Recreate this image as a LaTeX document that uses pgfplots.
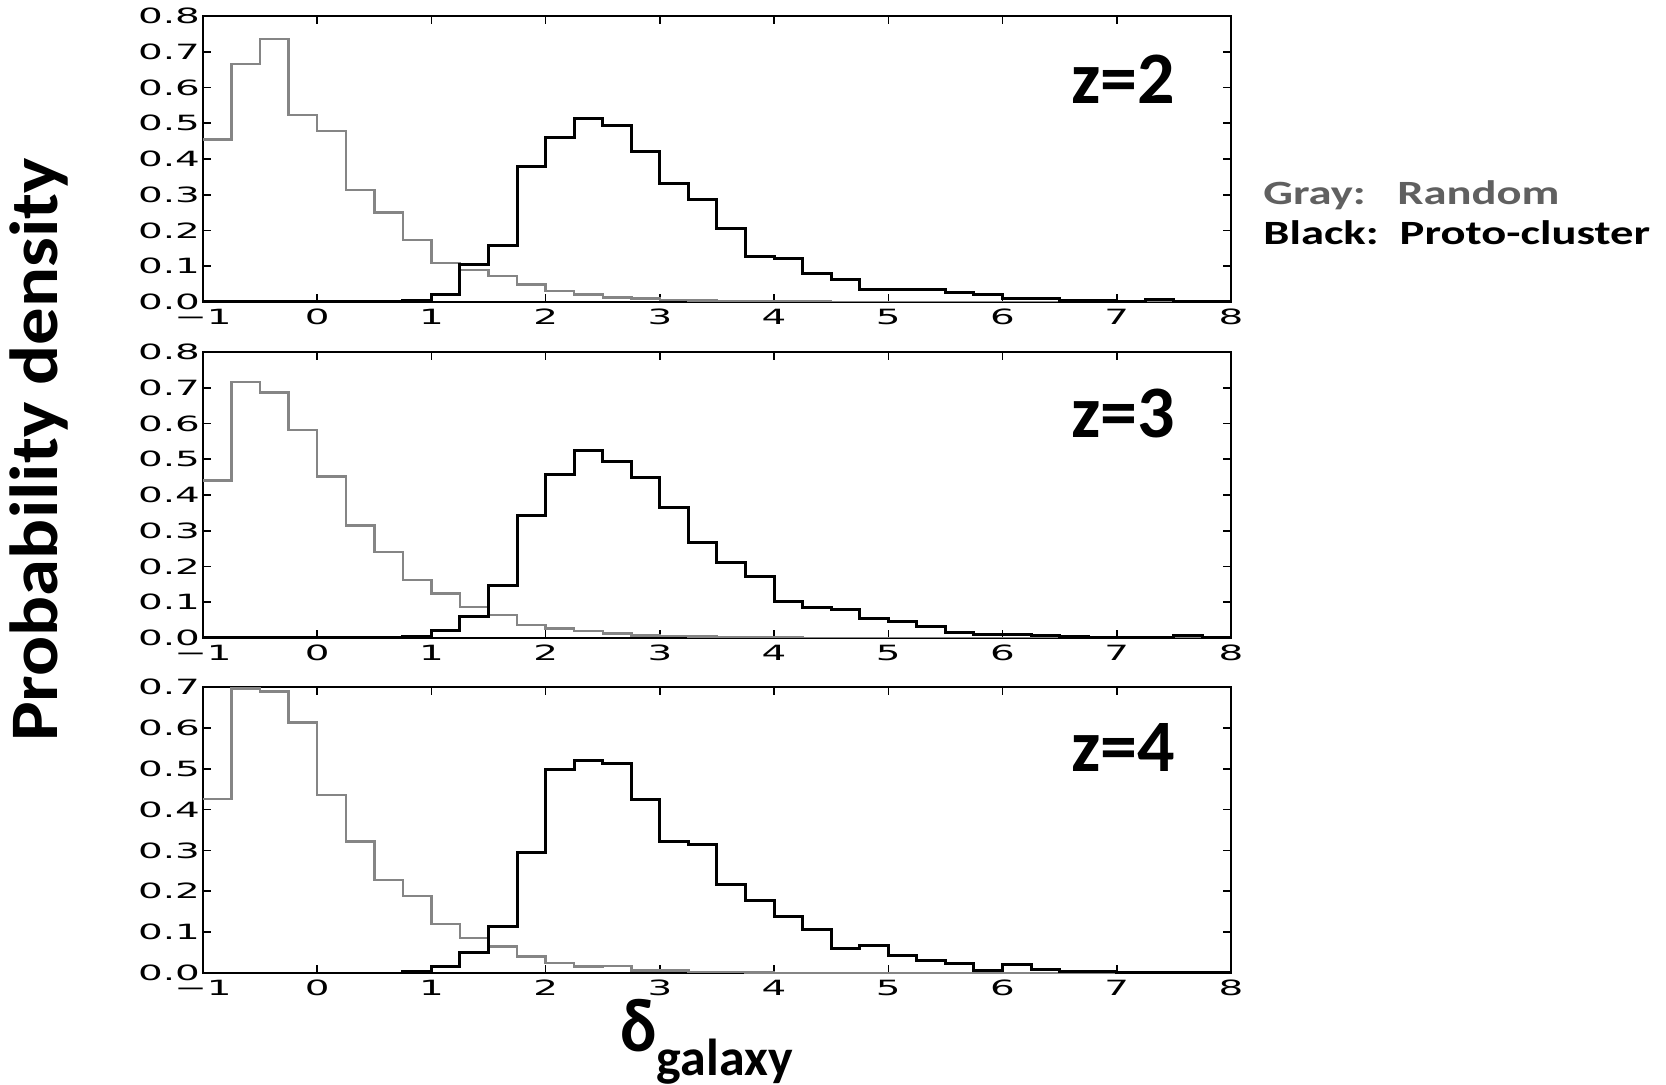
\documentclass[border=0pt]{standalone}
\usepackage{fontspec}
\setmainfont{Carlito}
\newfontfamily\tickfont{DejaVu Sans}
\usepackage{graphicx}
\usepackage{pgfplots}
\pgfplotsset{compat=1.18}
\usepackage{pgfplotstable}
\definecolor{histgray}{HTML}{858585}
\definecolor{legendgray}{HTML}{606060}
\newcommand\sx[1]{\scalebox{1.85}[1]{#1}}

\pgfplotstableread{
x     g2    b2    g3    b3    g4    b4
-1.00 0.455 0     0.440 0     0.426 0
-0.75 0.665 0     0.716 0     0.696 0
-0.50 0.735 0     0.687 0     0.689 0
-0.25 0.523 0     0.582 0     0.613 0
0.00  0.478 0     0.452 0     0.435 0
0.25  0.314 0     0.315 0     0.322 0
0.50  0.250 0.001 0.240 0     0.228 0
0.75  0.173 0.003 0.162 0.005 0.188 0.003
1.00  0.109 0.022 0.124 0.021 0.120 0.016
1.25  0.089 0.105 0.086 0.061 0.086 0.049
1.50  0.072 0.159 0.065 0.148 0.065 0.114
1.75  0.049 0.378 0.037 0.343 0.040 0.296
2.00  0.031 0.460 0.026 0.456 0.024 0.499
2.25  0.021 0.512 0.020 0.524 0.016 0.519
2.50  0.012 0.493 0.012 0.493 0.017 0.512
2.75  0.010 0.420 0.007 0.448 0.006 0.425
3.00  0.006 0.331 0.006 0.364 0.006 0.323
3.25  0.004 0.288 0.004 0.268 0.003 0.314
3.50  0.003 0.206 0.003 0.210 0.002 0.216
3.75  0.002 0.128 0.002 0.171 0.001 0.177
4.00  0.001 0.121 0.001 0.103 0     0.139
4.25  0.001 0.079 0     0.084 0     0.107
4.50  0     0.064 0     0.079 0     0.061
4.75  0     0.036 0     0.054 0     0.068
5.00  0     0.035 0     0.047 0     0.042
5.25  0     0.036 0     0.031 0     0.030
5.50  0     0.027 0     0.014 0     0.024
5.75  0     0.020 0     0.011 0     0.006
6.00  0     0.009 0     0.009 0     0.020
6.25  0     0.011 0     0.007 0     0.008
6.50  0     0.005 0     0.004 0     0.003
6.75  0     0.005 0     0.002 0     0.003
7.00  0     0.002 0     0.001 0     0.002
7.25  0     0.007 0     0.002 0     0.001
7.50  0     0     0     0.006 0     0.001
7.75  0     0     0     0     0     0.001
8.00  0     0     0     0     0     0.001
}\hist

\pgfplotsset{
  panel/.style={
    width=514pt, height=143pt, scale only axis,
    anchor=north west,
    xmin=-1, xmax=8, ymin=0,
    xtick={-1,0,1,2,3,4,5,6,7,8},
    xticklabels={\sx{−1},\sx{0},\sx{1},\sx{2},\sx{3},\sx{4},\sx{5},\sx{6},\sx{7},\sx{8}},
    tick align=inside,
    major tick length=4pt,
    tick style={black, line width=0.8pt},
    axis line style={black, line width=1.1pt},
    ticklabel style={font=\tickfont\fontsize{10.5}{11}\selectfont},
    yticklabel style={xshift=2pt},
    xticklabel style={yshift=0pt},
    minor tick num=0,
    clip=true,
  },
  grayh/.style={const plot mark left, histgray, line width=1.2pt, no marks},
  blackh/.style={const plot mark left, black, line width=1.5pt, no marks},
}

\begin{document}
\begin{tikzpicture}
\useasboundingbox (-101.5pt,8pt) rectangle (731.5pt,-534.5pt);

\begin{axis}[panel, at={(0pt,0pt)}, ymax=0.8,
  ytick={0,0.1,0.2,0.3,0.4,0.5,0.6,0.7,0.8},
  yticklabels={\sx{0.0},\sx{0.1},\sx{0.2},\sx{0.3},\sx{0.4},\sx{0.5},\sx{0.6},\sx{0.7},\sx{0.8}}]
  \addplot[grayh] table[x=x, y=g2] {\hist};
  \addplot[blackh] table[x=x, y=b2] {\hist};
  \node[font=\fontsize{37}{40}\selectfont\bfseries] at (rel axis cs:0.895,0.78) {z=2};
\end{axis}

\begin{axis}[panel, at={(0pt,-168pt)}, ymax=0.8,
  ytick={0,0.1,0.2,0.3,0.4,0.5,0.6,0.7,0.8},
  yticklabels={\sx{0.0},\sx{0.1},\sx{0.2},\sx{0.3},\sx{0.4},\sx{0.5},\sx{0.6},\sx{0.7},\sx{0.8}}]
  \addplot[grayh] table[x=x, y=g3] {\hist};
  \addplot[blackh] table[x=x, y=b3] {\hist};
  \node[font=\fontsize{37}{40}\selectfont\bfseries] at (rel axis cs:0.895,0.786) {z=3};
\end{axis}

\begin{axis}[panel, at={(0pt,-335.5pt)}, ymax=0.7,
  ytick={0,0.1,0.2,0.3,0.4,0.5,0.6,0.7},
  yticklabels={\sx{0.0},\sx{0.1},\sx{0.2},\sx{0.3},\sx{0.4},\sx{0.5},\sx{0.6},\sx{0.7}}]
  \addplot[grayh] table[x=x, y=g4] {\hist};
  \addplot[blackh] table[x=x, y=b4] {\hist};
  \node[font=\fontsize{37}{40}\selectfont\bfseries] at (rel axis cs:0.895,0.79) {z=4};
\end{axis}

\node[rotate=90, inner sep=0] at (-82pt,-217pt) {\fontsize{34}{40}\selectfont\bfseries\scalebox{1.1}[1]{Probability density}};

\node[anchor=base west, inner sep=0, text=legendgray] at (530pt,-94.5pt)
  {\fontsize{17}{20}\selectfont\bfseries\scalebox{1.37}[1]{Gray:\ \ \ Random}};
\node[anchor=base west, inner sep=0, text=black] at (530pt,-114.5pt)
  {\fontsize{17}{20}\selectfont\bfseries\scalebox{1.37}[1]{Black:\ \ Proto-cluster}};

\node[anchor=base west, inner sep=0] at (208.5pt,-517.5pt)
  {\bfseries\scalebox{0.9}[1]{\fontsize{38}{40}\selectfont δ}\raisebox{-12pt}{\fontsize{26}{28}\selectfont galaxy}};
\end{tikzpicture}
\end{document}
